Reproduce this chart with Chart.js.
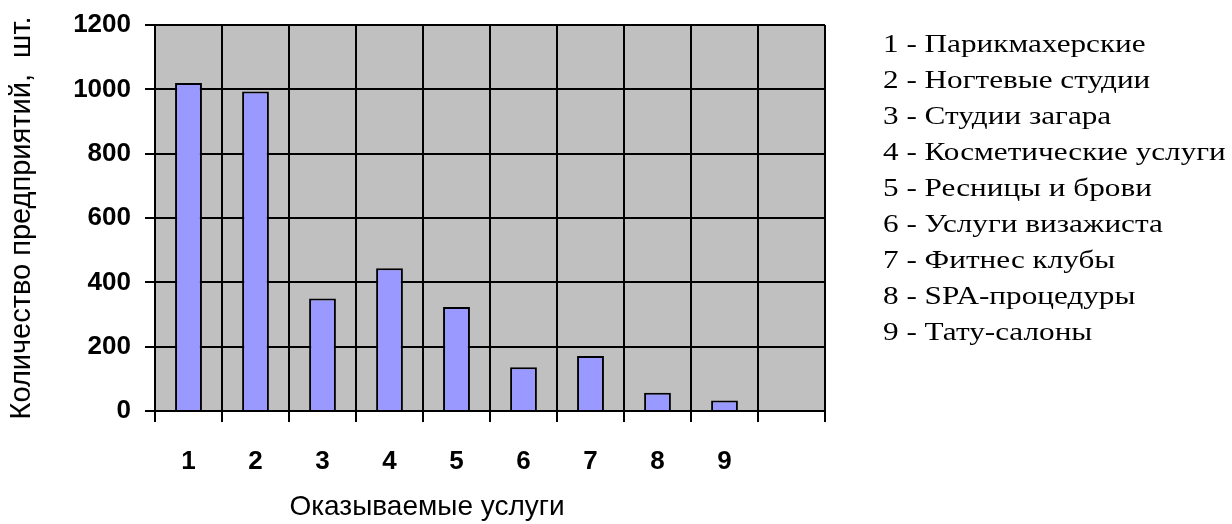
<!DOCTYPE html>
<html lang="ru">
<head>
    <meta charset="UTF-8">
    <title>Количество предприятий по услугам</title>
    <script src="https://cdn.jsdelivr.net/npm/chart.js"></script>
    <style>
        body {
            margin: 0;
            background: #fff;
        }
        .wrap {
            position: relative;
            width: 1232px;
            height: 524px;
        }
        #legend {
            position: absolute;
            left: 883px;
            top: 26px;
            margin: 0;
            padding: 0;
            list-style: none;
            font-family: "Liberation Serif", "Times New Roman", serif;
            font-size: 26px;
            line-height: 36px;
            color: #000;
            white-space: nowrap;
            transform: scaleX(1.2);
            transform-origin: left top;
        }
    </style>
</head>
<body>
<div class="wrap">
    <canvas id="chart" width="1232" height="524"></canvas>
    <ul id="legend"></ul>
</div>

<script>
    // данные
    const categories = ['1', '2', '3', '4', '5', '6', '7', '8', '9', ''];
    const counts = [1020, 993, 350, 444, 323, 136, 171, 57, 33, null];
    const serviceNames = [
        'Парикмахерские',
        'Ногтевые студии',
        'Студии загара',
        'Косметические услуги',
        'Ресницы и брови',
        'Услуги визажиста',
        'Фитнес клубы',
        'SPA-процедуры',
        'Тату-салоны'
    ];
    const yTicks = [0, 200, 400, 600, 800, 1000, 1200];

    // подписи справа
    const legend = document.getElementById('legend');
    serviceNames.forEach((name, i) => {
        const li = document.createElement('li');
        li.textContent = (i + 1) + ' - ' + name;
        legend.appendChild(li);
    });

    const sansFont = "'Liberation Sans', Arial, sans-serif";

    // серый фон области построения + подпись оси X
    const plotDecor = {
        id: 'plotDecor',
        beforeDraw(chart) {
            const {ctx, chartArea} = chart;
            ctx.save();
            ctx.fillStyle = '#C0C0C0';
            ctx.fillRect(chartArea.left, chartArea.top,
                chartArea.right - chartArea.left, chartArea.bottom - chartArea.top);
            ctx.restore();
        },
        afterDraw(chart) {
            const {ctx, chartArea} = chart;
            ctx.save();
            ctx.font = '28px ' + sansFont;
            ctx.fillStyle = '#000';
            ctx.textAlign = 'center';
            ctx.textBaseline = 'middle';
            const x = chartArea.left + (chartArea.right - chartArea.left) * 0.406;
            ctx.fillText('Оказываемые услуги', x, 507);
            ctx.restore();
        }
    };

    new Chart(document.getElementById('chart'), {
        type: 'bar',
        data: {
            labels: categories,
            datasets: [{
                data: counts,
                backgroundColor: '#9999FF',
                borderColor: '#000',
                borderWidth: 2,
                categoryPercentage: 1,
                barPercentage: 0.4
            }]
        },
        options: {
            responsive: false,
            animation: false,
            layout: {
                padding: {top: 25, right: 407, left: 0, bottom: 0}
            },
            plugins: {
                legend: {display: false},
                tooltip: {enabled: false}
            },
            scales: {
                x: {
                    offset: true,
                    grid: {
                        color: '#000',
                        lineWidth: 2,
                        offset: true,
                        tickLength: 11
                    },
                    border: {color: '#000', width: 2},
                    ticks: {
                        color: '#000',
                        padding: 24,
                        font: {family: sansFont, size: 26, weight: 'bold'}
                    },
                    afterFit(scale) {
                        scale.height = 113;
                    }
                },
                y: {
                    min: 0,
                    max: 1200,
                    afterBuildTicks(scale) {
                        scale.ticks = yTicks.map(v => ({value: v}));
                    },
                    grid: {
                        color: '#000',
                        lineWidth: 2,
                        tickLength: 10
                    },
                    border: {color: '#000', width: 2},
                    ticks: {
                        color: '#000',
                        padding: 14,
                        callback: v => String(v),
                        font: {family: sansFont, size: 26, weight: 'bold'}
                    },
                    title: {
                        display: true,
                        text: 'Количество предприятий,  шт.',
                        color: '#000',
                        padding: {top: 5, bottom: 0},
                        font: {family: sansFont, size: 29}
                    },
                    afterFit(scale) {
                        scale.width = 155;
                        scale.paddingTop = 0;
                        scale.paddingBottom = 0;
                    }
                }
            }
        },
        plugins: [plotDecor]
    });
</script>
</body>
</html>
